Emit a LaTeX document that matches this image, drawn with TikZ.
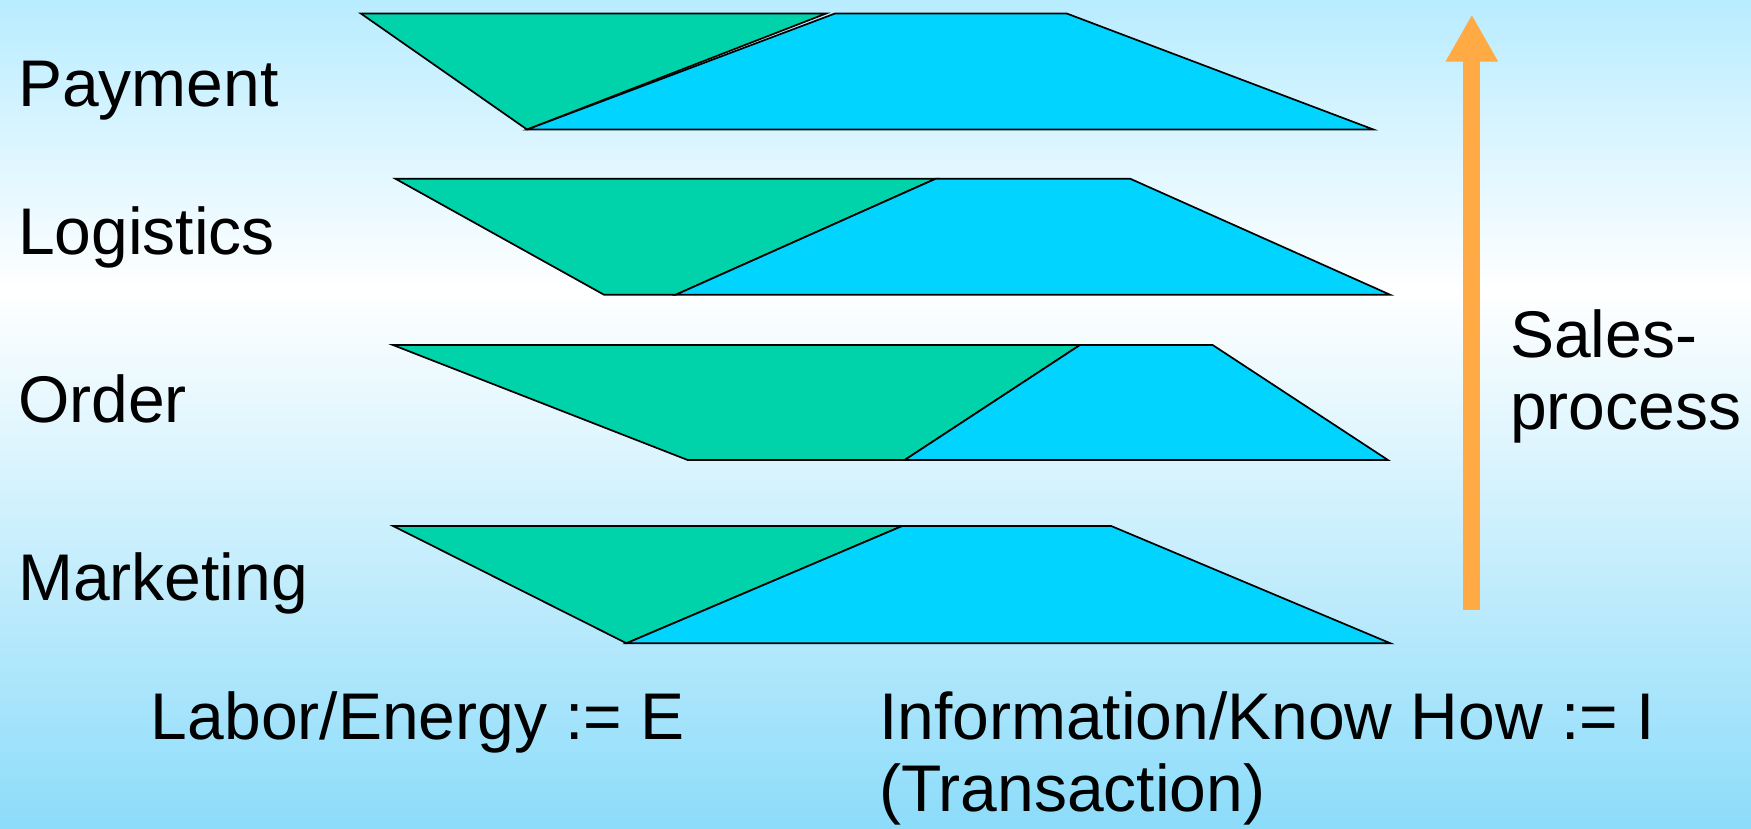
\documentclass[tikz,border=0pt]{standalone}
\usepackage{fontspec}
\setmainfont{Liberation Sans}
\usetikzlibrary{arrows.meta}
\definecolor{egreen}{RGB}{0,210,170}
\definecolor{iblue}{RGB}{0,212,255}
\definecolor{sorange}{RGB}{255,170,68}
\definecolor{bgtop}{RGB}{184,236,255}
\definecolor{bgbot}{RGB}{140,220,250}
\pgfdeclareverticalshading{bgshade}{100bp}{color(0bp)=(bgbot); color(25bp)=(bgbot); color(57.5bp)=(white); color(75bp)=(bgtop); color(100bp)=(bgtop)}
\begin{document}
\begin{tikzpicture}[x=1.1167pt,y=-1.1167pt,
  lbl/.style={font=\fontsize{66}{75}\selectfont, inner sep=0pt, anchor=base west, text=black},
  eshape/.style={fill=egreen, draw=black, line width=1.7pt, line join=miter},
  ishape/.style={fill=iblue, draw=black, line width=1.7pt, line join=miter}]
\shade[shading=bgshade] (0,0) rectangle (1568,742);
\useasboundingbox (0,0) rectangle (1568,742);
% Payment
\filldraw[eshape] (323,12) -- (740,12) -- (472,116) -- cycle;
\filldraw[ishape] (472,116) -- (748,12) -- (955,12) -- (1230,116) -- cycle;
% Logistics
\filldraw[eshape] (354,160) -- (838,160) -- (605,264) -- (541,264) -- cycle;
\filldraw[ishape] (605,264) -- (838,160) -- (1012,160) -- (1245,264) -- cycle;
% Order
\filldraw[eshape] (352,309) -- (967,309) -- (810,412) -- (616,412) -- cycle;
\filldraw[ishape] (810,412) -- (967,309) -- (1086,309) -- (1243,412) -- cycle;
% Marketing
\filldraw[eshape] (352,471) -- (808,471) -- (561,576) -- cycle;
\filldraw[ishape] (561,576) -- (808,471) -- (995,471) -- (1245,576) -- cycle;
% arrow
\coordinate (arrS) at (1318,546);
\coordinate (arrE) at (1318,13);
\draw[sorange, line width=16.7pt, -{Triangle[width=49pt,length=47pt]}] (arrS) -- (arrE);
% labels
\node[lbl] (pay) at (16,95) {Payment};
\node[lbl] (log) at (16,228) {Logistics};
\node[lbl] (ord) at (16,378) {Order};
\node[lbl] (mkt) at (16,538) {Marketing};
\node[lbl] (sales) at (1352,320) {Sales-};
\node[lbl] (proc) at (1352,385) {process};
\node[lbl] (lab) at (135,662) {Labor/Energy := E};
\node[lbl] (inf) at (787,662) {Information/Know How := I};
\node[lbl] (trans) at (787,727) {(Transaction)};
\end{tikzpicture}
\end{document}
